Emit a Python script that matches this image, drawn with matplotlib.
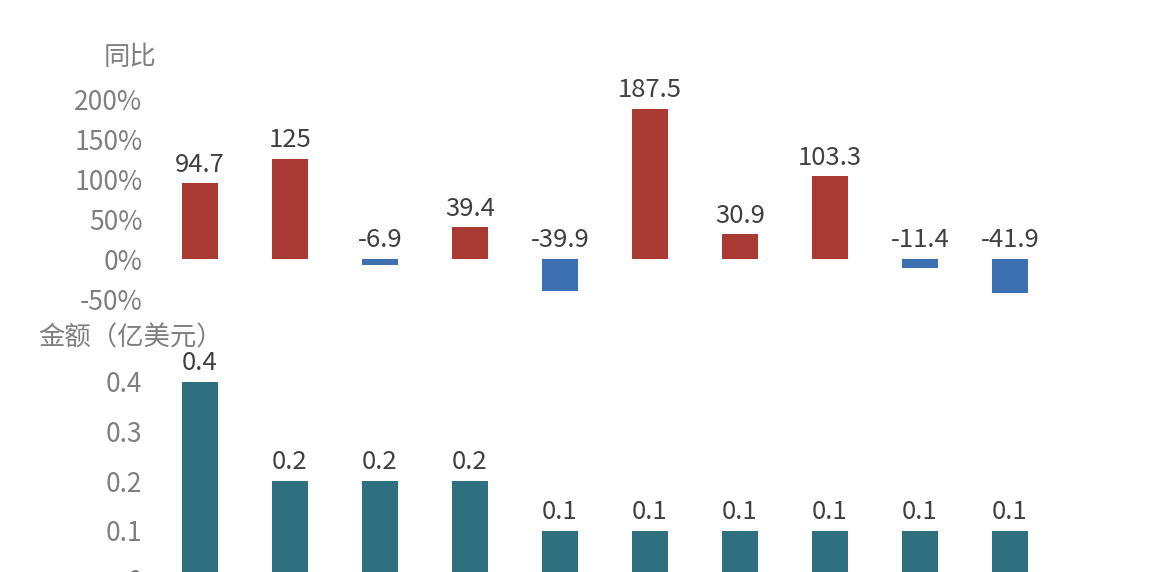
import numpy as np
from matplotlib import pyplot as plt

plt.rcParams['font.family'] = ['Noto Sans CJK SC', 'DejaVu Sans']

# datos
yoy = [94.7, 125, -6.9, 39.4, -39.9, 187.5, 30.9, 103.3, -11.4, -41.9]
yoy_labels = ["94.7", "125", "-6.9", "39.4", "-39.9", "187.5", "30.9", "103.3", "-11.4", "-41.9"]
amount = [0.4, 0.2, 0.2, 0.2, 0.1, 0.1, 0.1, 0.1, 0.1, 0.1]
amount_labels = ["0.4", "0.2", "0.2", "0.2", "0.1", "0.1", "0.1", "0.1", "0.1", "0.1"]
yoy_ticks = [-50, 0, 50, 100, 150, 200]
amount_ticks = [0, 0.1, 0.2, 0.3, 0.4]

RED = "#A93A33"
BLUE = "#3C70B1"
TEAL = "#2E6F80"
TICK = "#7F7F7F"
LABEL = "#404040"

W, H = 1160, 572
fig = plt.figure(figsize=(W / 100, H / 100), dpi=100)

x = np.arange(len(yoy))
left = 155 / W
width = 900 / W

#panel de arriba: variacion interanual
ax1 = fig.add_axes([left, 1 - 299 / H, width, 200 / H])
colors = [RED if v >= 0 else BLUE for v in yoy]
ax1.bar(x, yoy, width=0.4, color=colors)
ax1.set_xlim(-0.5, 9.5)
ax1.set_ylim(-50, 200)
ax1.set_yticks(yoy_ticks)
ax1.set_yticklabels([f"{t}%" for t in yoy_ticks])
for i, v in enumerate(yoy):
    ax1.annotate(yoy_labels[i], (x[i], max(v, 0)), xytext=(0, 4), textcoords="offset points",
                 ha="center", va="bottom", fontsize=18.5, color=LABEL, annotation_clip=False)
ax1.text(0.002, 1.21, "同比", transform=ax1.transAxes, ha="right", va="center", fontsize=19, color=TICK)

#panel de abajo: monto
ax2 = fig.add_axes([left, 1 - 580 / H, width, 198 / H])
ax2.bar(x, amount, width=0.4, color=TEAL)
ax2.set_xlim(-0.5, 9.5)
ax2.set_ylim(0, 0.4)
ax2.set_yticks(amount_ticks)
ax2.set_yticklabels(["0", "0.1", "0.2", "0.3", "0.4"])
for i, v in enumerate(amount):
    ax2.annotate(amount_labels[i], (x[i], v), xytext=(0, 4), textcoords="offset points",
                 ha="center", va="bottom", fontsize=18.5, color=LABEL, annotation_clip=False)
ax2.text(-0.13, 1.22, "金额（亿美元）", transform=ax2.transAxes, ha="left", va="center", fontsize=19, color=TICK)

for ax in (ax1, ax2):
    for s in ax.spines.values():
        s.set_visible(False)
    ax.tick_params(axis="both", length=0, labelsize=19, labelcolor=TICK, pad=9)
    ax.set_xticks([])

fig.savefig("out.png", dpi=100)
